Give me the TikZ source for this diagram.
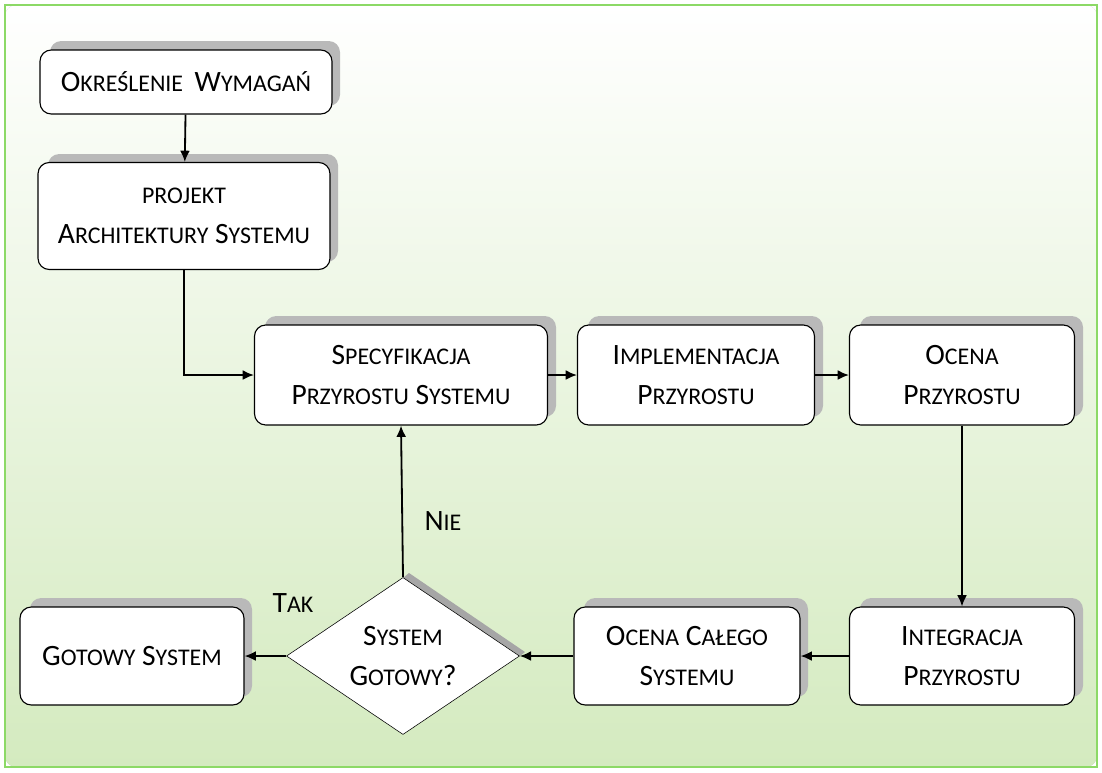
\documentclass[tikz,border=0pt]{standalone}
\usepackage{fontspec}
\setmainfont{Carlito}
\usetikzlibrary{shapes.geometric,arrows.meta}
\newcommand\fsc[2]{#1{\fontsize{17}{28}\selectfont\MakeUppercase{#2}}}
\begin{document}
\begin{tikzpicture}[x=0.025cm,y=-0.025cm,
    font=\fontsize{21}{28}\selectfont,
    box/.style={draw, thick, rounded corners=8pt, fill=white, align=center},
    shade/.style={fill=gray!55, rounded corners=8pt, draw=none},
    flow/.style={line width=1.3pt, -{Latex[length=8pt,width=7pt]}}]
    % background
    \useasboundingbox (0,0) rectangle (1102,772);
    \shade[top color=white, bottom color=green!35!olive!25!white] (5,5) rectangle (1097,767);
    \draw[green!50!olive!60, line width=1.5pt] (5,5) rectangle (1097,767);
    % shadows
    \foreach \xa/\ya/\xb/\yb in {40/50/332/114, 38/163/330/270, 255/325/548/425, 578/325/815/425,
        850/325/1075/425, 850/607/1075/705, 574/607/800/705, 20/607/244/705}
        \fill[shade] (\xa+10,\ya-9) rectangle (\xb+8,\yb-8);
    \fill[gray!70] (403,578) -- (520,656) -- (525,652) -- (409,573) -- cycle;
    % nodes
    \node[box, minimum width=292*0.025cm, minimum height=64*0.025cm] (okr) at (186,82) {\fsc{O}{kreślenie}\, \fsc{W}{ymagań}};
    \node[box, minimum width=292*0.025cm, minimum height=107*0.025cm] (proj) at (184,216) {\fsc{}{projekt}\\\fsc{A}{rchitektury} \fsc{S}{ystemu}};
    \node[box, minimum width=293*0.025cm, minimum height=100*0.025cm] (spec) at (401,375) {\fsc{S}{pecyfikacja}\\\fsc{P}{rzyrostu} \fsc{S}{ystemu}};
    \node[box, minimum width=237*0.025cm, minimum height=100*0.025cm] (impl) at (696,375) {\fsc{I}{mplementacja}\\\fsc{P}{rzyrostu}};
    \node[box, minimum width=225*0.025cm, minimum height=100*0.025cm] (ocena) at (962,375) {\fsc{O}{cena}\\\fsc{P}{rzyrostu}};
    \node[box, minimum width=225*0.025cm, minimum height=98*0.025cm] (integ) at (962,656) {\fsc{I}{ntegracja}\\\fsc{P}{rzyrostu}};
    \node[box, minimum width=226*0.025cm, minimum height=98*0.025cm] (ocall) at (687,656) {\fsc{O}{cena} \fsc{C}{ałego}\\\fsc{S}{ystemu}};
    \node[box, minimum width=224*0.025cm, minimum height=98*0.025cm] (gotowy) at (132,656) {\fsc{G}{otowy} \fsc{S}{ystem}};
    \node[draw, fill=white, diamond, aspect=1.48, inner sep=0pt, minimum width=233*0.025cm, minimum height=157*0.025cm, align=center] (dec) at (403,656) {\fsc{S}{ystem}\\\fsc{G}{otowy}?};
    \coordinate (bend) at (184,375);
    % arrows
    \draw[flow] (okr) -- (proj);
    \draw[flow] (proj.south) -- (bend) -- (spec.west);
    \draw[flow] (spec) -- (impl);
    \draw[flow] (impl) -- (ocena);
    \draw[flow] (ocena) -- (integ);
    \draw[flow] (integ) -- (ocall);
    \draw[flow] (ocall) -- (dec);
    \draw[flow] (dec) -- (gotowy);
    \draw[flow] (dec.north) -- (spec.south);
    % labels
    \node (tak) at (293,603) {\fsc{T}{ak}};
    \node (nie) at (443,521) {\fsc{N}{ie}};
\end{tikzpicture}
\end{document}
